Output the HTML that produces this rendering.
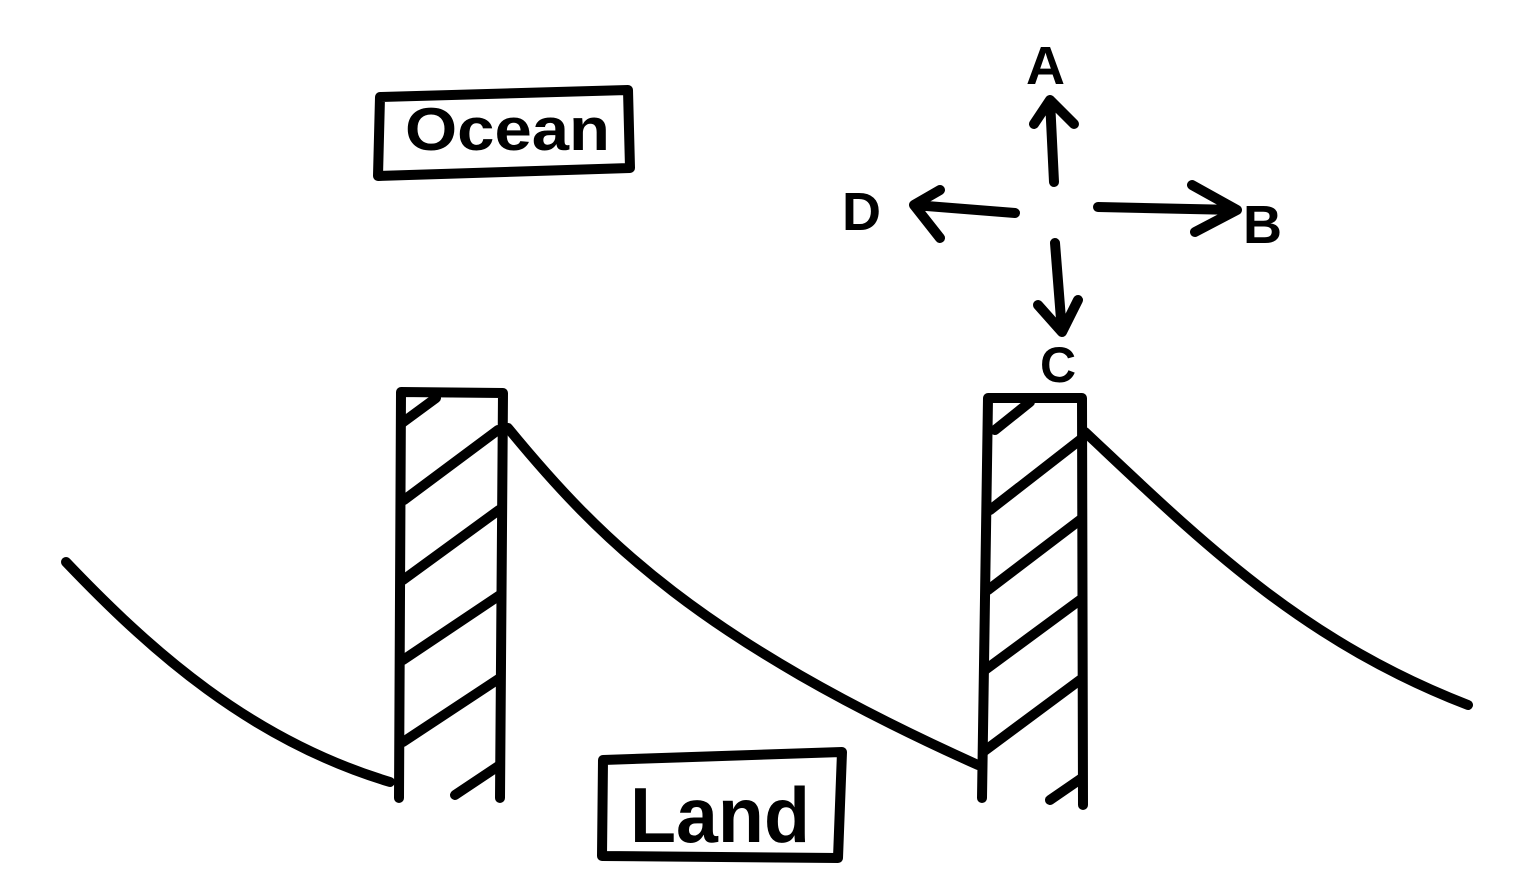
<!DOCTYPE html>
<html><head><meta charset="utf-8"><style>
html,body{margin:0;padding:0;background:#fff;width:1527px;height:886px;overflow:hidden}
svg text{font-family:"Liberation Sans",sans-serif;font-weight:bold;fill:#000}
</style></head><body>
<svg width="1527" height="886" viewBox="0 0 1527 886" xmlns="http://www.w3.org/2000/svg">
<g fill="none" stroke="#000" stroke-width="10" stroke-linecap="round" stroke-linejoin="round">
<path d="M380 97 L628 90 L630 168 L378 176 Z"/>
<path d="M603 760 L842 752 L838 858 L602 856 Z"/>
<path d="M1054 182 L1050 100 M1034 124 L1050 100 L1074 124"/>
<path d="M1015 213 L914 205 M940 190 L914 205 L940 238"/>
<path d="M1098 207 L1237 210 M1192 185 L1237 210 L1195 232"/>
<path d="M1055 243 L1062 332 M1038 305 L1062 332 L1078 300"/>
<path d="M399 798 L401 392 L503 393 L500 798"/>
<path d="M402 423 L436 398 M404 500 L498 430 M403 580 L499 510 M403 660 L500 595 M403 742 L500 678 M455 795 L500 765"/>
<path d="M982 798 L988 398 L1082 398 L1083 805"/>
<path d="M995 430 L1030 402 M990 510 L1080 440 M988 590 L1080 520 M985 670 L1080 600 M983 752 L1080 680 M1050 800 L1082 778"/>
<path d="M66 562 C150 650 250 740 390 782"/>
<path d="M508 428 C600 540 700 640 978 765"/>
<path d="M1085 432 C1200 540 1300 640 1468 705"/>
</g>
<text x="405" y="150" font-size="60" textLength="205" lengthAdjust="spacingAndGlyphs">Ocean</text>
<text x="630" y="842" font-size="78" textLength="180" lengthAdjust="spacingAndGlyphs">Land</text>
<text x="1026" y="84" font-size="54">A</text>
<text x="842" y="230" font-size="54">D</text>
<text x="1243" y="243" font-size="54">B</text>
<text x="1040" y="382" font-size="50">C</text>
</svg>
</body></html>
